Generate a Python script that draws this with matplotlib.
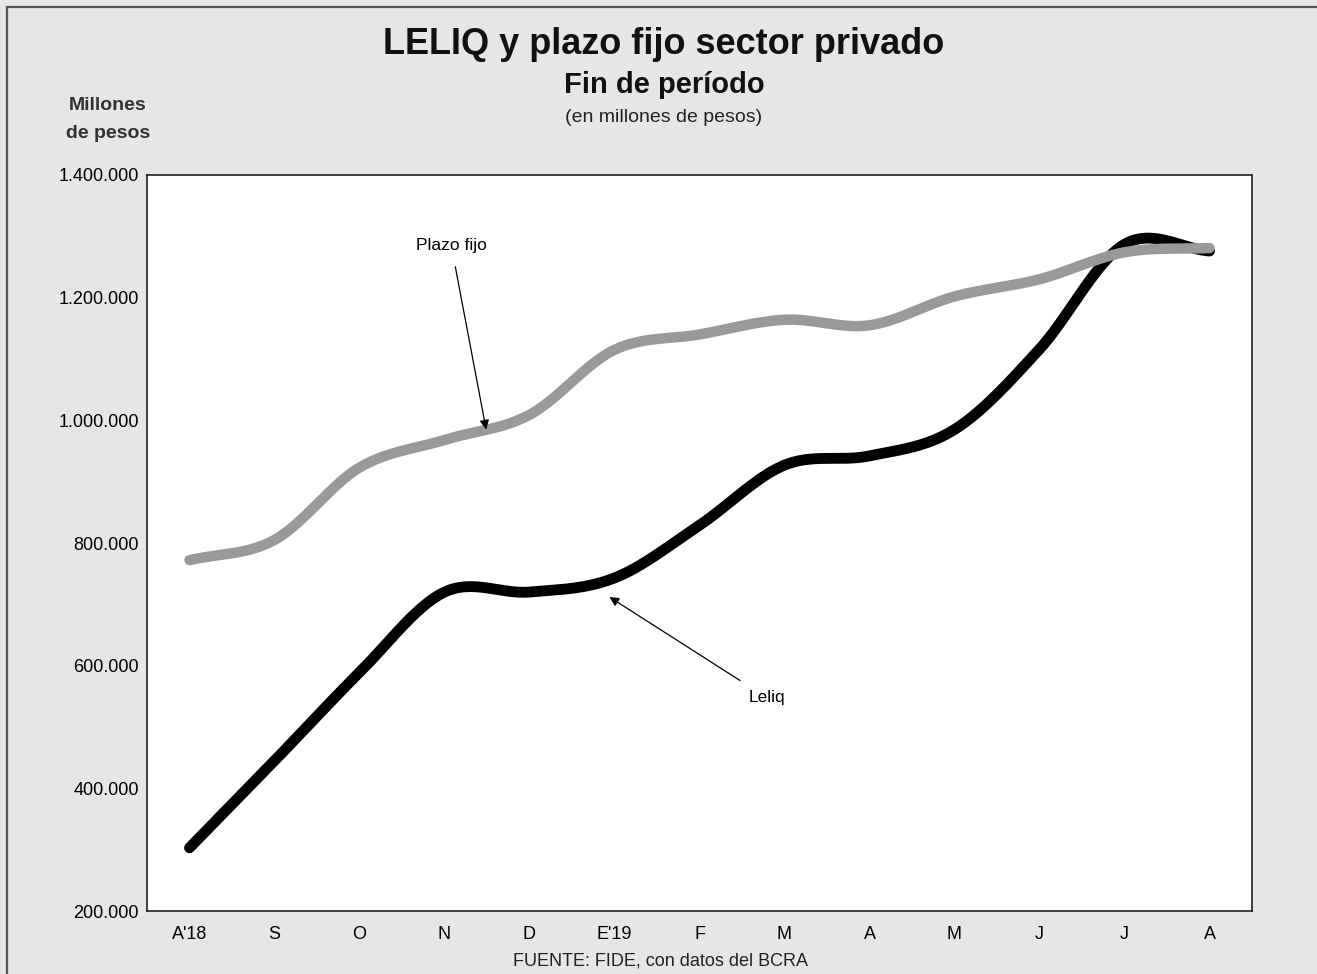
import numpy as np
import matplotlib
matplotlib.use('Agg')
import matplotlib.pyplot as plt
from matplotlib.patches import Rectangle
from matplotlib import font_manager

# Data (millones de pesos, fin de periodo)
meses = ["A'18", 'S', 'O', 'N', 'D', "E'19", 'F', 'M', 'A', 'M', 'J', 'J', 'A']
plazo_fijo = [772000, 805000, 923000, 968000, 1009000, 1115000, 1140000,
              1164000, 1155000, 1202000, 1230000, 1274000, 1281000]
leliq = [303000, 445000, 589000, 720000, 720000, 743000, 829000,
         927000, 942000, 985000, 1116000, 1287000, 1276000]

names = {f.name for f in font_manager.fontManager.ttflist}
narrow = 'Liberation Sans Narrow' if 'Liberation Sans Narrow' in names else 'Liberation Sans'

BG = '#e5e6e8'


# smooth curve through the points (Catmull-Rom), like the spreadsheet line smoothing
def smooth(x, y, n=30):
	x = np.asarray(x, float)
	y = np.asarray(y, float)
	px = np.concatenate([[2 * x[0] - x[1]], x, [2 * x[-1] - x[-2]]])
	py = np.concatenate([[2 * y[0] - y[1]], y, [2 * y[-1] - y[-2]]])
	xs, ys = [], []
	t = np.linspace(0, 1, n, endpoint=False)
	for i in range(1, len(px) - 2):
		for p, out in ((px, xs), (py, ys)):
			p0, p1, p2, p3 = p[i - 1], p[i], p[i + 1], p[i + 2]
			out.extend(0.5 * ((2 * p1) + (-p0 + p2) * t +
			                  (2 * p0 - 5 * p1 + 4 * p2 - p3) * t ** 2 +
			                  (-p0 + 3 * p1 - 3 * p2 + p3) * t ** 3))
	xs.append(x[-1])
	ys.append(y[-1])
	return np.array(xs), np.array(ys)


fig = plt.figure(figsize=(13.17, 9.74), dpi=100)
fig.patch.set_facecolor(BG)

# outer frame
fig.patches.append(Rectangle((7 / 1317, -0.1), 1.2, 1 - 7 / 974 + 0.1, transform=fig.transFigure,
                             fill=False, edgecolor='#555555', linewidth=1.6))

ax = fig.add_axes([147 / 1317, 1 - 911 / 974, (1252 - 147) / 1317, (911 - 175) / 974])
ax.set_facecolor('white')

x = np.arange(len(meses))
lx, ly = smooth(x, leliq)
px_, py_ = smooth(x, plazo_fijo)
ax.plot(lx, ly, color='black', linewidth=7.8, solid_capstyle='round', zorder=3)
ax.plot(px_, py_, color='#999999', linewidth=7.5, solid_capstyle='round', zorder=4)

ax.set_xlim(-0.5, 12.5)
ax.set_ylim(200000, 1400000)
ax.set_yticks(np.arange(200000, 1400001, 200000))
ax.set_yticklabels(['{:,}'.format(v).replace(',', '.') for v in range(200000, 1400001, 200000)],
                   fontsize=13, family=narrow)
ax.set_xticks(x)
ax.set_xticklabels(meses, fontsize=13, family=narrow)
ax.tick_params(axis='y', length=0, pad=6)
ax.tick_params(axis='x', length=0, pad=11)
for s in ax.spines.values():
	s.set_linewidth(1.2)
	s.set_color('#222222')

# annotations
ax.annotate('Plazo fijo', xy=(3.49, 985000), xytext=(3.08, 1285000),
            fontsize=12.5, family=narrow, ha='center', va='center',
            arrowprops=dict(arrowstyle='-|>', color='black', lw=0.9, mutation_scale=14,
                            shrinkA=8, shrinkB=0), zorder=6)
ax.annotate('Leliq', xy=(4.94, 712000), xytext=(6.79, 548000),
            fontsize=12.5, family=narrow, ha='center', va='center',
            arrowprops=dict(arrowstyle='-|>', color='black', lw=0.9, mutation_scale=14,
                            shrinkA=9, shrinkB=0), zorder=6)

# titles
fig.text(664 / 1317, 1 - 45 / 974, 'LELIQ y plazo fijo sector privado', ha='center', va='center',
         fontsize=26, fontweight='bold', family=narrow, color='#111111')
fig.text(664 / 1317, 1 - 85 / 974, 'Fin de período', ha='center', va='center',
         fontsize=21, fontweight='bold', family=narrow, color='#111111')
fig.text(664 / 1317, 1 - 117 / 974, '(en millones de pesos)', ha='center', va='center',
         fontsize=14, family=narrow, color='#222222')
fig.text(108 / 1317, 1 - 106 / 974, 'Millones', ha='center', va='center',
         fontsize=14, fontweight='bold', family=narrow, color='#333333')
fig.text(108 / 1317, 1 - 133 / 974, 'de pesos', ha='center', va='center',
         fontsize=14, fontweight='bold', family=narrow, color='#333333')
fig.text(660 / 1317, 1 - 961 / 974, 'FUENTE: FIDE, con datos del BCRA', ha='center', va='center',
         fontsize=13, family=narrow, color='#222222')

fig.savefig('out.png', dpi=100, facecolor=BG)
